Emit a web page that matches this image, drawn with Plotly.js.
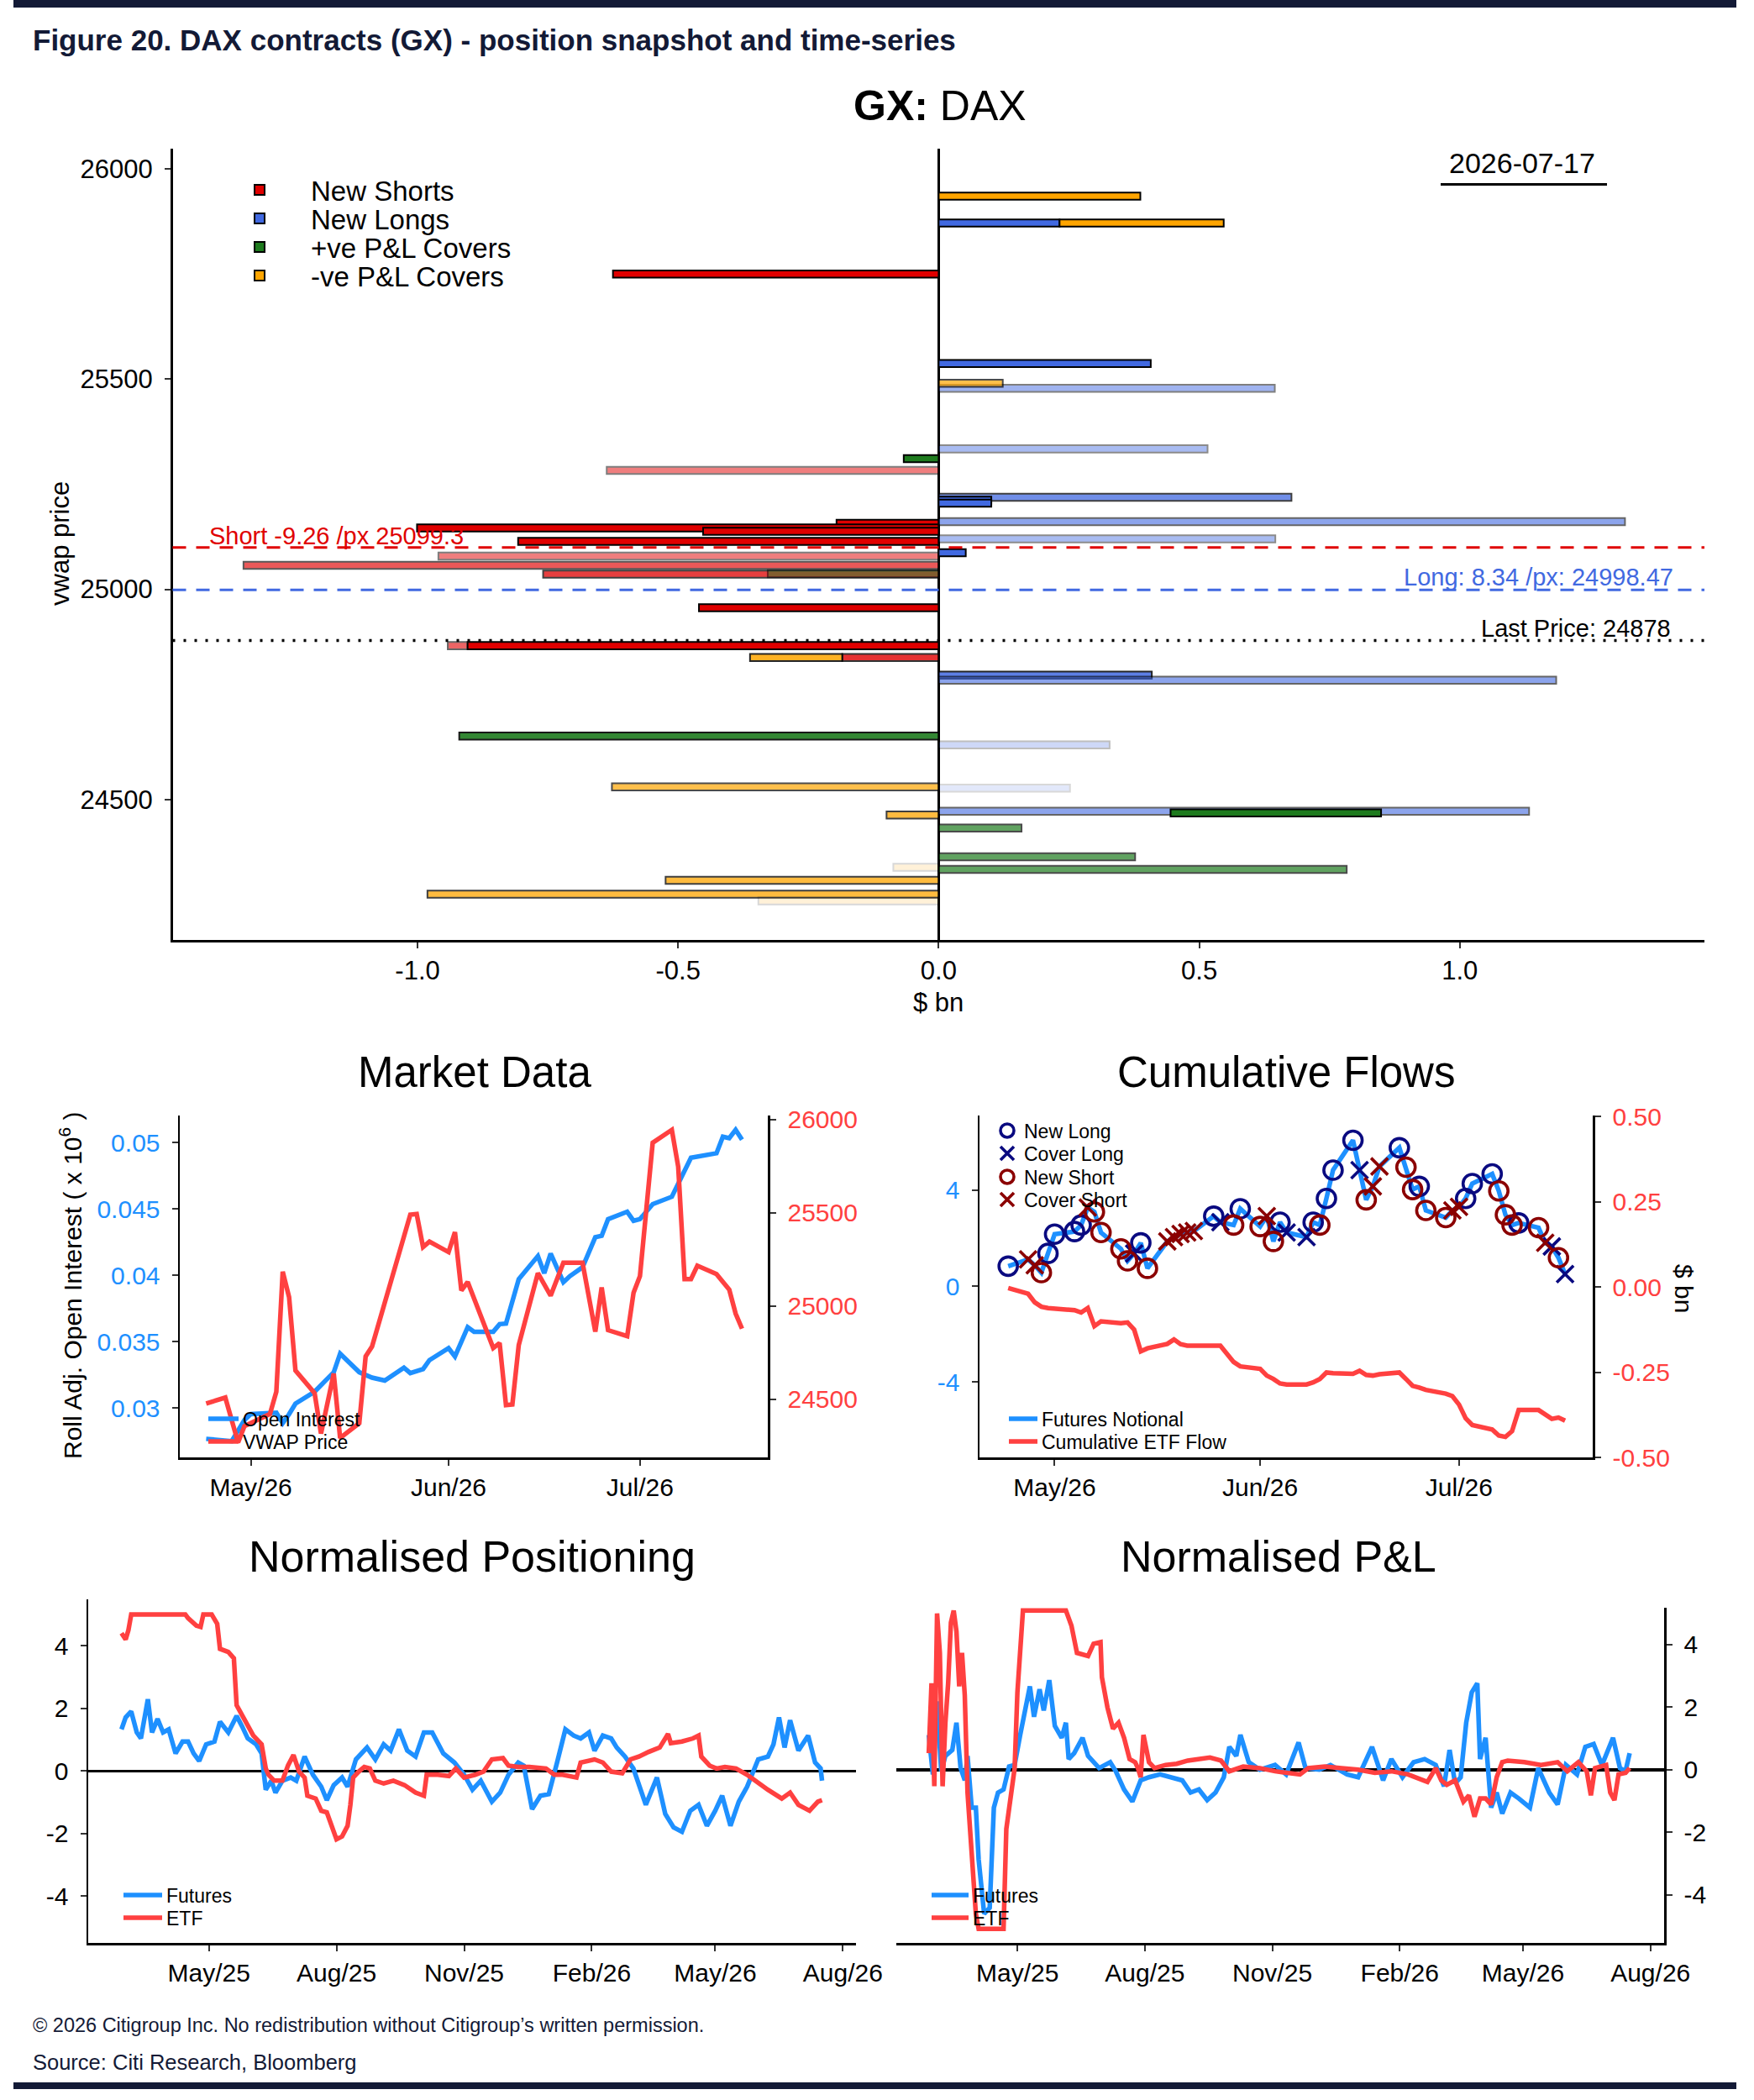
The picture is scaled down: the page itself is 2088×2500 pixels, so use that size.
<!DOCTYPE html>
<html>
<head>
<meta charset="utf-8">
<title>DAX contracts (GX) - position snapshot and time-series</title>
<script src="https://cdn.plot.ly/plotly-3.0.1.min.js"></script>
<style>
  html, body { margin: 0; padding: 0; background: #ffffff; }
  #fig { width: 2088px; height: 2500px; }
</style>
</head>
<body>
<div id="fig"></div>
<script>
// ---------------- Position snapshot: GX (DAX) ----------------
const asOfDate = '2026-07-17';
const lastPrice = 24878;
const shortTotal = -9.26;
const shortVwap = 25099.3;
const longTotal = 8.34;
const longVwap = 24998.47;

// New Shorts: vwap price, bar start, bar length ($ bn), opacity
const nsPrice = [25750, 25283, 25157, 25146, 25138, 25114, 25079, 25057, 25036, 24956, 24866, 24866, 24838];
const nsBase  = [0, 0, 0, 0, 0, 0, 0, 0, 0, 0, -0.904, 0, 0];
const nsSize  = [-0.625, -0.637, -0.196, -1.001, -0.452, -0.807, -0.960, -1.334, -0.759, -0.460, -0.038, -0.904, -0.185];
const nsAlpha = [1, 0.5, 1, 1, 1, 1, 0.5, 0.65, 0.75, 1, 0.6, 1, 0.8];

// New Longs
const nlPrice = [25871, 25537, 25478, 25334, 25219, 25212, 25205, 25161, 25120, 25087, 24796, 24784, 24630, 24527, 24472];
const nlBase  = [0, 0, 0, 0, 0, 0, 0, 0, 0, 0, 0, 0, 0, 0, 0];
const nlSize  = [0.232, 0.407, 0.645, 0.516, 0.677, 0.101, 0.101, 1.317, 0.646, 0.052, 0.409, 1.185, 0.328, 0.252, 1.133];
const nlAlpha = [1, 1, 0.5, 0.45, 0.75, 1, 1, 0.6, 0.45, 1, 0.85, 0.6, 0.25, 0.15, 0.6];

// +ve P&L Covers
const pcPrice = [25311, 25037, 24651, 24468, 24432, 24364, 24334];
const pcBase  = [0, 0, 0, 0.445, 0, 0, 0];
const pcSize  = [-0.067, -0.328, -0.920, 0.404, 0.159, 0.377, 0.783];
const pcAlpha = [1, 0.5, 0.9, 1, 0.7, 0.7, 0.7];

// -ve P&L Covers
const ncPrice = [25935, 25871, 25490, 24838, 24530, 24463, 24339, 24308, 24275, 24259];
const ncBase  = [0, 0.232, 0, -0.185, 0, 0, 0, 0, 0, 0];
const ncSize  = [0.387, 0.315, 0.123, -0.177, -0.627, -0.100, -0.087, -0.524, -0.981, -0.346];
const ncAlpha = [1, 1, 0.7, 0.85, 0.7, 0.75, 0.15, 0.75, 0.75, 0.15];

const snapXTicks = [-1, -0.5, 0, 0.5, 1];
const snapXText  = ['-1.0', '-0.5', '0.0', '0.5', '1.0'];
const snapYTicks = [24500, 25000, 25500, 26000];
const snapYText  = ['24500', '25000', '25500', '26000'];

// ---------------- Market Data ----------------
const oiDates = ['2026-04-24','2026-04-28','2026-04-30','2026-05-01','2026-05-05','2026-05-06','2026-05-07','2026-05-08','2026-05-11','2026-05-14',
  '2026-05-15','2026-05-18','2026-05-20','2026-05-22','2026-05-25','2026-05-26','2026-05-28','2026-05-29','2026-06-01','2026-06-02',
  '2026-06-04','2026-06-05','2026-06-08','2026-06-09','2026-06-10','2026-06-12','2026-06-15','2026-06-16','2026-06-17','2026-06-19',
  '2026-06-20','2026-06-22','2026-06-24','2026-06-25','2026-06-26','2026-06-29','2026-06-30','2026-07-01','2026-07-03','2026-07-06',
  '2026-07-09','2026-07-13','2026-07-14','2026-07-15','2026-07-16','2026-07-17'];
const openInterest = [0.02769,0.02751,0.02910,0.02955,0.02966,0.02887,0.02955,0.03034,0.03124,0.03271,
  0.03411,0.03271,0.03230,0.03208,0.03305,0.03264,0.03294,0.03362,0.03452,0.03389,
  0.03610,0.03576,0.03576,0.03633,0.03637,0.03972,0.04146,0.04017,0.04164,0.03949,
  0.03994,0.04062,0.04288,0.04299,0.04424,0.04480,0.04412,0.04424,0.04537,0.04593,
  0.04887,0.04921,0.05045,0.05034,0.05097,0.05023];

const vwapDates = ['2026-04-24','2026-04-27','2026-04-29','2026-04-30','2026-05-04','2026-05-05','2026-05-06','2026-05-07','2026-05-08','2026-05-11',
  '2026-05-12','2026-05-14','2026-05-15','2026-05-18','2026-05-19','2026-05-20','2026-05-26','2026-05-27','2026-05-28','2026-05-29',
  '2026-06-01','2026-06-02','2026-06-03','2026-06-04','2026-06-08','2026-06-09','2026-06-10','2026-06-11','2026-06-12','2026-06-15',
  '2026-06-17','2026-06-19','2026-06-22','2026-06-24','2026-06-25','2026-06-26','2026-06-29','2026-06-30','2026-07-01','2026-07-03',
  '2026-07-06','2026-07-07','2026-07-08','2026-07-09','2026-07-10','2026-07-13','2026-07-15','2026-07-16','2026-07-17'];
const vwapPrice = [24476,24508,24267,24355,24420,24540,25184,25047,24653,24532,
  24315,24637,24291,24371,24729,24782,25490,25493,25316,25345,
  25289,25396,25083,25128,24774,24801,24468,24471,24790,25176,
  25055,25232,25232,24862,25099,24870,24838,25071,25160,25876,
  25945,25747,25144,25144,25216,25171,25087,24959,24878];

const mdTickVals = ['2026-05-01', '2026-06-01', '2026-07-01'];
const mdTickText = ['May/26', 'Jun/26', 'Jul/26'];
const oiTicks = [0.03, 0.035, 0.04, 0.045, 0.05];
const oiTickText = ['0.03', '0.035', '0.04', '0.045', '0.05'];

// ---------------- Cumulative Flows ----------------
const flowDates = ['2026-04-24','2026-04-27','2026-04-28','2026-04-29','2026-04-30',
  '2026-05-01','2026-05-04','2026-05-05','2026-05-06','2026-05-07','2026-05-08','2026-05-11','2026-05-12','2026-05-13','2026-05-14',
  '2026-05-15','2026-05-18','2026-05-19','2026-05-20','2026-05-21','2026-05-22','2026-05-25','2026-05-26','2026-05-28','2026-05-29',
  '2026-06-01','2026-06-02','2026-06-03','2026-06-04','2026-06-05','2026-06-08','2026-06-09','2026-06-10','2026-06-11','2026-06-12',
  '2026-06-15','2026-06-16','2026-06-17','2026-06-18','2026-06-19','2026-06-22','2026-06-23','2026-06-24','2026-06-25','2026-06-26',
  '2026-06-29','2026-06-30','2026-07-01','2026-07-02','2026-07-03','2026-07-06','2026-07-07','2026-07-08','2026-07-09','2026-07-10',
  '2026-07-13','2026-07-14','2026-07-15','2026-07-16','2026-07-17'];
const futuresNotional = [0.83,1.11,0.87,0.56,1.36,
  2.16,2.27,2.54,3.27,3.09,2.23,1.55,1.05,1.36,1.80,
  0.74,1.86,2.04,2.17,2.23,2.29,2.91,2.66,2.54,3.22,
  2.48,2.91,1.86,2.66,2.23,2.04,2.66,2.54,3.65,4.83,
  6.07,4.83,3.59,4.15,4.98,5.76,4.95,4.02,4.15,3.15,
  2.85,3.15,3.30,3.65,4.27,4.67,3.96,2.97,2.54,2.63,
  2.43,1.80,1.65,1.18,0.50];
const flowType = ['NL','CS','CS','NS','NL',
  'NL','NL','NL','CS','NS','NS','NS','NS','CL','NL',
  'NS','CS','CS','CS','CS','CS','NL','CL','NS','NL',
  'NS','CS','NS','NL','CL','CL','NL','NS','NL','NL',
  'NL','CL','NS','CS','CS','NL','NS','NS','NL','NS',
  'NS','CS','CS','NL','NL','NL','NS','NS','NS','NL',
  'NS','CS','CL','NS','CL'];
const etfFlow = [-0.003,-0.020,-0.045,-0.058,-0.062,
  -0.064,-0.068,-0.075,-0.062,-0.115,-0.101,-0.106,-0.104,-0.125,-0.189,
  -0.180,-0.167,-0.154,-0.168,-0.172,-0.172,-0.172,-0.172,-0.220,-0.233,
  -0.240,-0.260,-0.270,-0.283,-0.286,-0.286,-0.280,-0.270,-0.251,-0.253,
  -0.255,-0.246,-0.258,-0.260,-0.256,-0.251,-0.270,-0.290,-0.295,-0.302,
  -0.313,-0.320,-0.345,-0.385,-0.405,-0.418,-0.436,-0.440,-0.423,-0.361,
  -0.361,-0.374,-0.387,-0.383,-0.392];
const flowLeftTicks = [-4, 0, 4];
const flowLeftText = ['-4', '0', '4'];
const flowRightTicks = [-0.5, -0.25, 0, 0.25, 0.5];
const flowRightText = ['-0.50', '-0.25', '0.00', '0.25', '0.50'];

// ---------------- Normalised Positioning ----------------
const posEtfDates = ['2025-02-27','2025-03-02','2025-03-04','2025-03-06','2025-04-14','2025-04-16','2025-04-22','2025-04-25','2025-04-27','2025-05-03',
  '2025-05-07','2025-05-09','2025-05-15','2025-05-19','2025-05-21','2025-05-25','2025-05-29','2025-06-02','2025-06-08','2025-06-11',
  '2025-06-13','2025-06-17','2025-06-23','2025-06-27','2025-07-01','2025-07-05','2025-07-09','2025-07-11','2025-07-17','2025-07-21',
  '2025-07-25','2025-07-29','2025-08-01','2025-08-05','2025-08-09','2025-08-11','2025-08-13','2025-08-17','2025-08-21','2025-08-25',
  '2025-08-29','2025-09-04','2025-09-11','2025-09-19','2025-09-27','2025-10-03','2025-10-05','2025-10-13','2025-10-21','2025-10-26',
  '2025-11-01','2025-11-09','2025-11-15','2025-11-21','2025-11-29','2025-12-03','2025-12-10','2025-12-18','2025-12-30','2026-01-05',
  '2026-01-11','2026-01-21','2026-01-24','2026-02-03','2026-02-09','2026-02-15','2026-02-23','2026-03-01','2026-03-07','2026-03-14',
  '2026-03-22','2026-03-28','2026-03-30','2026-04-07','2026-04-15','2026-04-19','2026-04-21','2026-04-27','2026-05-02','2026-05-08',
  '2026-05-16','2026-05-24','2026-06-01','2026-06-08','2026-06-18','2026-06-24','2026-06-30','2026-07-08','2026-07-14','2026-07-17'];
const posEtf = [4.40,4.20,4.50,5.00,5.00,4.88,4.64,4.60,5.00,5.00,
  4.70,3.90,3.80,3.60,2.10,1.76,1.42,1.13,0.85,0.08,
  -0.12,-0.31,-0.31,0.17,0.51,-0.02,-0.21,-0.79,-0.88,-1.27,
  -1.32,-1.85,-2.18,-2.09,-1.75,-1.08,-0.21,-0.02,0.13,0.08,
  -0.31,-0.40,-0.31,-0.45,-0.69,-0.79,-0.12,-0.12,-0.16,0.08,
  -0.21,-0.12,-0.02,0.37,0.41,0.17,0.13,0.13,0.08,-0.12,
  -0.12,-0.21,0.27,0.37,0.27,-0.02,-0.07,0.37,0.46,0.61,
  0.75,1.18,0.89,0.94,1.04,1.13,0.46,0.17,0.08,0.13,
  0.08,-0.12,-0.40,-0.60,-0.88,-0.69,-1.08,-1.27,-0.98,-0.93];

const posFutDates = ['2025-02-27','2025-03-02','2025-03-06','2025-03-10','2025-03-13','2025-03-18','2025-03-21','2025-03-25','2025-03-29','2025-04-02',
  '2025-04-07','2025-04-12','2025-04-16','2025-04-20','2025-04-24','2025-04-29','2025-05-05','2025-05-09','2025-05-15','2025-05-21',
  '2025-05-25','2025-05-29','2025-06-04','2025-06-08','2025-06-11','2025-06-15','2025-06-18','2025-06-23','2025-06-29','2025-07-03',
  '2025-07-09','2025-07-15','2025-07-21','2025-07-25','2025-07-30','2025-08-05','2025-08-09','2025-08-15','2025-08-23','2025-08-29',
  '2025-09-04','2025-09-09','2025-09-15','2025-09-21','2025-09-27','2025-10-03','2025-10-09','2025-10-17','2025-10-25','2025-11-01',
  '2025-11-07','2025-11-13','2025-11-21','2025-11-27','2025-12-03','2025-12-10','2025-12-14','2025-12-20','2025-12-26','2026-01-01',
  '2026-01-07','2026-01-13','2026-01-19','2026-01-24','2026-01-30','2026-02-03','2026-02-09','2026-02-15','2026-02-19','2026-02-25',
  '2026-03-03','2026-03-08','2026-03-12','2026-03-20','2026-03-26','2026-04-01','2026-04-07','2026-04-13','2026-04-19','2026-04-25',
  '2026-05-01','2026-05-06','2026-05-12','2026-05-18','2026-05-24','2026-06-01','2026-06-08','2026-06-12','2026-06-16','2026-06-20',
  '2026-06-24','2026-06-30','2026-07-07','2026-07-12','2026-07-16','2026-07-17'];
const posFut = [1.33,1.71,1.90,1.23,1.04,2.29,1.23,1.66,1.23,1.33,
  0.56,0.94,0.94,0.56,0.32,0.85,0.94,1.57,1.23,1.76,
  1.42,1.04,0.85,0.56,-0.60,-0.31,-0.69,-0.31,-0.21,-0.31,
  0.46,-0.12,-0.50,-0.93,-0.45,-0.21,-0.50,0.37,0.75,0.37,
  0.85,0.65,1.33,0.65,0.46,1.23,1.23,0.56,0.27,-0.12,
  -0.60,-0.31,-0.98,-0.69,-0.12,0.27,0.17,-1.22,-0.79,-0.74,
  0.27,1.33,1.13,1.04,1.23,0.65,1.13,1.04,0.75,0.46,
  0.08,-0.60,-1.08,-0.21,-1.37,-1.80,-1.94,-1.27,-1.08,-1.75,
  -1.27,-0.79,-1.75,-0.98,-0.50,0.37,0.46,0.85,1.71,0.75,
  1.62,0.65,1.13,0.27,0.08,-0.31];

// ---------------- Normalised P&L ----------------
const plEtfDates = ['2025-02-26','2025-02-28','2025-03-02','2025-03-04','2025-03-06','2025-03-08','2025-03-10','2025-03-12','2025-03-14','2025-03-16',
  '2025-03-18','2025-03-20','2025-03-22','2025-03-24','2025-03-26','2025-03-29','2025-04-01','2025-04-03','2025-04-21','2025-04-23',
  '2025-04-27','2025-04-29','2025-05-01','2025-05-05','2025-06-05','2025-06-09','2025-06-13','2025-06-21','2025-06-25','2025-06-30',
  '2025-07-01','2025-07-05','2025-07-09','2025-07-13','2025-07-17','2025-07-21','2025-07-25','2025-07-27','2025-07-29','2025-07-31',
  '2025-08-04','2025-08-08','2025-08-16','2025-08-24','2025-09-01','2025-09-09','2025-09-17','2025-09-25','2025-10-01','2025-10-11',
  '2025-10-23','2025-11-03','2025-11-11','2025-11-21','2025-11-27','2025-12-09','2025-12-21','2026-01-02','2026-01-14','2026-01-26',
  '2026-02-07','2026-02-15','2026-02-21','2026-02-27','2026-03-03','2026-03-07','2026-03-13','2026-03-19','2026-03-23','2026-03-27',
  '2026-03-31','2026-04-04','2026-04-08','2026-04-12','2026-04-16','2026-04-20','2026-05-02','2026-05-14','2026-05-26','2026-06-02',
  '2026-06-10','2026-06-16','2026-06-19','2026-06-22','2026-06-30','2026-07-03','2026-07-06','2026-07-09','2026-07-14','2026-07-17'];
const plEtf = [0.53,2.76,-0.53,4.99,3.73,-0.53,1.50,2.76,4.70,5.08,
  4.41,2.66,3.73,2.37,-0.73,-2.86,-4.60,-5.08,-5.08,-1.89,
  -0.44,0.05,2.47,5.08,5.08,4.60,3.73,3.63,4.02,4.07,
  2.95,1.99,1.31,1.50,1.02,0.34,0.24,0.05,-0.24,1.11,
  0.24,0.05,0.15,0.19,0.29,0.34,0.39,0.29,-0.05,0.10,
  0.05,-0.05,-0.10,-0.15,0.05,0.10,0.05,0.00,-0.10,-0.05,
  -0.15,-0.29,-0.39,0.05,-0.34,-0.48,-0.34,-1.02,-0.82,-1.50,
  -0.92,-0.92,-1.11,-0.24,0.24,0.29,0.24,0.15,0.24,-0.05,
  0.24,-0.05,-0.82,0.05,0.15,-0.73,-0.97,-0.15,-0.10,0.05];

const plFutDates = ['2025-02-26','2025-03-01','2025-03-04','2025-03-07','2025-03-10','2025-03-15','2025-03-18','2025-03-21','2025-03-24','2025-03-26',
  '2025-03-29','2025-04-01','2025-04-03','2025-04-07','2025-04-11','2025-04-14','2025-04-17','2025-04-21','2025-04-25','2025-04-29',
  '2025-05-03','2025-05-07','2025-05-10','2025-05-13','2025-05-17','2025-05-20','2025-05-24','2025-05-28','2025-06-02','2025-06-05',
  '2025-06-07','2025-06-11','2025-06-17','2025-06-21','2025-06-29','2025-07-07','2025-07-11','2025-07-17','2025-07-23','2025-07-29',
  '2025-08-04','2025-08-12','2025-08-20','2025-08-28','2025-09-03','2025-09-09','2025-09-15','2025-09-21','2025-09-27','2025-10-01',
  '2025-10-06','2025-10-09','2025-10-15','2025-10-23','2025-11-03','2025-11-11','2025-11-20','2025-11-25','2025-12-05','2025-12-13',
  '2025-12-25','2026-01-02','2026-01-12','2026-01-20','2026-01-26','2026-02-03','2026-02-11','2026-02-19','2026-02-27','2026-03-05',
  '2026-03-09','2026-03-13','2026-03-17','2026-03-21','2026-03-25','2026-03-29','2026-03-31','2026-04-04','2026-04-08','2026-04-12',
  '2026-04-16','2026-04-22','2026-04-28','2026-05-06','2026-05-12','2026-05-20','2026-05-26','2026-06-01','2026-06-09','2026-06-15',
  '2026-06-21','2026-06-27','2026-07-05','2026-07-10','2026-07-14','2026-07-17'];
const plFut = [1.11,-0.15,2.18,-0.05,0.44,0.63,1.50,0.05,-0.34,0.44,
  -1.21,-1.21,-2.86,-4.60,-4.41,-1.21,-0.73,-0.63,0.10,0.15,
  1.11,1.99,2.66,1.69,2.57,1.89,2.86,1.40,1.02,1.50,
  0.34,0.53,1.02,0.44,0.05,0.24,-0.05,-0.63,-1.02,-0.34,
  -0.24,-0.15,-0.24,-0.34,-0.73,-0.63,-0.97,-0.73,-0.24,0.73,
  0.44,1.11,0.24,0.00,0.15,-0.15,0.87,0.05,0.00,0.15,
  -0.15,-0.24,0.73,-0.34,0.34,-0.24,0.24,0.34,0.15,-0.53,
  0.63,-0.44,-0.24,1.50,2.47,2.76,0.34,1.02,-1.21,-0.73,
  -1.40,-0.73,-0.92,-1.21,0.05,-0.73,-1.11,0.15,-0.15,0.73,
  0.82,0.15,1.02,0.05,-0.05,0.53];

const normTicks = [-4, -2, 0, 2, 4];
const normTickText = ['-4', '-2', '0', '2', '4'];
const longTickVals = ['2025-05-01','2025-08-01','2025-11-01','2026-02-01','2026-05-01','2026-08-01'];
const longTickText = ['May/25','Aug/25','Nov/25','Feb/26','May/26','Aug/26'];

// ---------------- styling ----------------
const W = 2088, H = 2500;
const FONT = "'Liberation Sans', Arial, Helvetica, sans-serif";
const INK = '#131a36';
const BLUE = '#1E90FF';
const RED = '#FF4040';
const C_SHORT = '#E00000', C_LONG = '#4169E1', C_PCOV = '#1E7B1E', C_NCOV = '#FFA500';
const NAVY = '#0A0A80', DARKRED = '#8B0000';
const LINE_W = 5.5;

const px = v => v / W;
const py = v => 1 - v / H;

function barTrace(name, price, base, size, alpha, color, legend) {
  return {
    type: 'bar', orientation: 'h', name: name, legend: legend,
    y: price, x: size, base: base, width: 17,
    xaxis: 'x', yaxis: 'y',
    marker: { color: color, opacity: alpha, line: { color: '#000', width: 2 } },
    hoverinfo: 'skip'
  };
}

function lineTrace(name, x, y, color, xa, ya, legend) {
  return {
    type: 'scatter', mode: 'lines', name: name, legend: legend,
    x: x, y: y, xaxis: xa, yaxis: ya,
    line: { color: color, width: LINE_W }, hoverinfo: 'skip'
  };
}

function pickFlows(code) {
  const x = [], y = [];
  flowType.forEach((t, i) => { if (t === code) { x.push(flowDates[i]); y.push(futuresNotional[i]); } });
  return { x, y };
}

function markerTrace(name, code, symbol, color, legend, size) {
  const p = pickFlows(code);
  return {
    type: 'scatter', mode: 'markers', name: name, legend: legend,
    x: p.x, y: p.y, xaxis: 'x3', yaxis: 'y4',
    marker: { symbol: symbol, size: size, color: color, line: { color: color, width: 3.6 } },
    hoverinfo: 'skip'
  };
}

const traces = [
  barTrace('New Shorts', nsPrice, nsBase, nsSize, nsAlpha, C_SHORT, 'legend'),
  barTrace('New Longs', nlPrice, nlBase, nlSize, nlAlpha, C_LONG, 'legend2'),
  barTrace('+ve P&L Covers', pcPrice, pcBase, pcSize, pcAlpha, C_PCOV, 'legend3'),
  barTrace('-ve P&L Covers', ncPrice, ncBase, ncSize, ncAlpha, C_NCOV, 'legend4'),

  lineTrace('Open Interest', oiDates, openInterest, BLUE, 'x2', 'y2', 'legend5'),
  lineTrace('VWAP Price', vwapDates, vwapPrice, RED, 'x2', 'y3', 'legend6'),

  lineTrace('Cumulative ETF Flow', flowDates, etfFlow, RED, 'x3', 'y5', 'legend12'),
  lineTrace('Futures Notional', flowDates, futuresNotional, BLUE, 'x3', 'y4', 'legend11'),
  markerTrace('New Long', 'NL', 'circle-open', NAVY, 'legend7', 22),
  markerTrace('Cover Long', 'CL', 'x-thin-open', NAVY, 'legend8', 20),
  markerTrace('New Short', 'NS', 'circle-open', DARKRED, 'legend9', 22),
  markerTrace('Cover Short', 'CS', 'x-thin-open', DARKRED, 'legend10', 20),

  lineTrace('Futures', posFutDates, posFut, BLUE, 'x4', 'y6', 'legend13'),
  lineTrace('ETF', posEtfDates, posEtf, RED, 'x4', 'y6', 'legend14'),

  lineTrace('Futures', plFutDates, plFut, BLUE, 'x5', 'y7', 'legend15'),
  lineTrace('ETF', plEtfDates, plEtf, RED, 'x5', 'y7', 'legend16')
];

const axisBase = {
  showgrid: false, zeroline: false, showline: true, linecolor: '#000', linewidth: 2.5,
  ticks: 'outside', ticklen: 7, tickwidth: 2, tickcolor: '#333',
  tickfont: { family: FONT, size: 30, color: '#000' }, ticklabelstandoff: 8,
  fixedrange: true, automargin: false
};
function ax(extra) { return Object.assign({}, axisBase, extra); }
// x axes sit their labels closer to the axis line
function xax(extra) { return Object.assign({}, axisBase, { ticklabelstandoff: 0 }, extra); }

function legendAt(xLeft, yMid, size, itemW) {
  return {
    x: px(xLeft), y: py(yMid), xref: 'paper', yref: 'paper',
    xanchor: 'left', yanchor: 'middle', bgcolor: 'rgba(0,0,0,0)', borderwidth: 0,
    font: { family: FONT, size: size, color: '#000' }, itemwidth: itemW, tracegroupgap: 0
  };
}

function label(text, xPx, yPx, size, extra) {
  return Object.assign({
    text: text, x: px(xPx), y: py(yPx), xref: 'paper', yref: 'paper',
    xanchor: 'center', yanchor: 'middle', showarrow: false,
    font: { family: FONT, size: size, color: '#000' }
  }, extra || {});
}

const layout = {
  width: W, height: H,
  margin: { l: 0, r: 0, t: 0, b: 0, pad: 0 },
  paper_bgcolor: '#fff', plot_bgcolor: 'rgba(0,0,0,0)',
  barmode: 'overlay', showlegend: true, hovermode: false,
  font: { family: FONT, color: '#000' },

  // snapshot
  xaxis: xax({ domain: [px(205.5), px(2029)], anchor: 'y', range: [-1.470, 1.4695],
    tickvals: snapXTicks, ticktext: snapXText, tickfont: { family: FONT, size: 31, color: '#000' },
    zeroline: true, zerolinecolor: '#000', zerolinewidth: 2.5 }),
  yaxis: ax({ domain: [py(1119), py(177)], anchor: 'x', range: [24166, 26048],
    tickvals: snapYTicks, ticktext: snapYText, tickfont: { family: FONT, size: 31, color: '#000' } }),

  // market data
  xaxis2: xax({ type: 'date', domain: [px(214), px(914)], anchor: 'y2',
    range: ['2026-04-19 20:40', '2026-07-21 01:00'], tickvals: mdTickVals, ticktext: mdTickText }),
  yaxis2: ax({ domain: [py(1735), py(1328)], anchor: 'x2', range: [0.02629, 0.05205],
    tickvals: oiTicks, ticktext: oiTickText, tickfont: { family: FONT, size: 30, color: BLUE } }),
  yaxis3: ax({ overlaying: 'y2', side: 'right', anchor: 'x2', range: [24187, 26022],
    tickvals: snapYTicks, ticktext: snapYText, tickfont: { family: FONT, size: 30, color: RED } }),

  // cumulative flows
  xaxis3: xax({ type: 'date', domain: [px(1166), px(1896)], anchor: 'y4',
    range: ['2026-04-19 16:00', '2026-07-21 04:00'], tickvals: mdTickVals, ticktext: mdTickText }),
  yaxis4: ax({ domain: [py(1735), py(1328)], anchor: 'x3', range: [-7.13, 7.10],
    tickvals: flowLeftTicks, ticktext: flowLeftText, tickfont: { family: FONT, size: 30, color: BLUE } }),
  yaxis5: ax({ overlaying: 'y4', side: 'right', anchor: 'x3', range: [-0.5, 0.503],
    tickvals: flowRightTicks, ticktext: flowRightText, tickfont: { family: FONT, size: 30, color: RED } }),

  // normalised positioning
  xaxis4: xax({ type: 'date', domain: [px(105), px(1019)], anchor: 'y6',
    range: ['2025-02-03', '2026-08-10 12:00'], tickvals: longTickVals, ticktext: longTickText }),
  yaxis6: ax({ domain: [py(2313), py(1904)], anchor: 'x4', range: [-5.49, 5.48],
    tickvals: normTicks, ticktext: normTickText,
    zeroline: true, zerolinecolor: '#000', zerolinewidth: 3.5 }),

  // normalised P&L
  xaxis5: xax({ type: 'date', domain: [px(1067), px(1981)], anchor: 'y7',
    range: ['2025-02-02 14:00', '2026-08-10 21:00'], tickvals: longTickVals, ticktext: longTickText }),
  yaxis7: ax({ domain: [py(2313), py(1914)], anchor: 'x5', side: 'right', range: [-5.53, 5.17],
    tickvals: normTicks, ticktext: normTickText,
    zeroline: true, zerolinecolor: '#000', zerolinewidth: 3.5 }),

  legend:   legendAt(248, 226, 33, 112),
  legend2:  legendAt(248, 260, 33, 112),
  legend3:  legendAt(248, 294, 33, 112),
  legend4:  legendAt(248, 328, 33, 112),
  legend5:  legendAt(243, 1689, 23, 36),
  legend6:  legendAt(243, 1716, 23, 36),
  legend7:  legendAt(1179, 1346, 23, 30),
  legend8:  legendAt(1179, 1373, 23, 30),
  legend9:  legendAt(1179, 1401, 23, 30),
  legend10: legendAt(1179, 1428, 23, 30),
  legend11: legendAt(1196, 1689, 23, 34),
  legend12: legendAt(1196, 1716, 23, 34),
  legend13: legendAt(142, 2256, 23, 46),
  legend14: legendAt(142, 2283, 23, 46),
  legend15: legendAt(1104, 2256, 23, 44),
  legend16: legendAt(1104, 2283, 23, 44),

  shapes: [
    // page rules
    { type: 'rect', xref: 'paper', yref: 'paper', x0: px(16), x1: px(2067), y0: py(0), y1: py(9),
      fillcolor: INK, line: { width: 0 } },
    { type: 'rect', xref: 'paper', yref: 'paper', x0: px(16), x1: px(2067), y0: py(2479), y1: py(2487),
      fillcolor: INK, line: { width: 0 } },
    // underline of the snapshot date
    { type: 'line', xref: 'paper', yref: 'paper', x0: px(1715), x1: px(1913), y0: py(219.5), y1: py(219.5),
      line: { color: '#000', width: 3 } },
    // reference levels
    { type: 'line', xref: 'x domain', yref: 'y', x0: 0, x1: 1, y0: shortVwap, y1: shortVwap, layer: 'above',
      line: { color: C_SHORT, width: 3, dash: '16px,12px' } },
    { type: 'line', xref: 'x domain', yref: 'y', x0: 0, x1: 1, y0: longVwap, y1: longVwap, layer: 'above',
      line: { color: C_LONG, width: 3, dash: '16px,12px' } },
    { type: 'line', xref: 'x domain', yref: 'y', x0: 0, x1: 1, y0: lastPrice, y1: lastPrice, layer: 'above',
      line: { color: '#000', width: 3.5, dash: '3px,10px' } }
  ],

  annotations: [
    label('<b>Figure 20. DAX contracts (GX) - position snapshot and time-series</b>', 37, 48, 35,
      { xanchor: 'left', font: { family: FONT, size: 35, color: INK } }),
    label('<b>GX:</b> DAX', 1119, 126, 50),
    label(asOfDate, 1812, 194, 34),
    label('vwap price', 72, 647, 31, { textangle: -90 }),
    label('$ bn', 1117, 1193, 31),
    { text: `Short ${shortTotal} /px ${shortVwap}`, xref: 'x', yref: 'y', x: -1.403, y: shortVwap,
      xanchor: 'left', yanchor: 'bottom', yshift: -4, showarrow: false,
      font: { family: FONT, size: 29, color: C_SHORT } },
    { text: `Long: ${longTotal} /px: ${longVwap}`, xref: 'x', yref: 'y', x: 1.413, y: longVwap,
      xanchor: 'right', yanchor: 'bottom', yshift: -3, showarrow: false,
      font: { family: FONT, size: 29, color: C_LONG } },
    { text: `Last Price: ${lastPrice}`, xref: 'x', yref: 'y', x: 1.408, y: lastPrice,
      xanchor: 'right', yanchor: 'bottom', yshift: -3, showarrow: false,
      font: { family: FONT, size: 29, color: '#000' } },

    label('Market Data', 565, 1276, 51),
    label('Cumulative Flows', 1531, 1276, 51),
    label('Roll Adj. Open Interest ( x 10<sup>6</sup> )', 84, 1530, 30, { textangle: -90 }),
    label('$ bn', 2005, 1534, 30, { textangle: 90 }),
    label('Normalised Positioning', 562, 1853, 52),
    label('Normalised P&L', 1522, 1853, 52),

    label('© 2026 Citigroup Inc. No redistribution without Citigroup’s written permission.', 37, 2411, 23.5,
      { xanchor: 'left', font: { family: FONT, size: 23.5, color: INK } }),
    label('Source: Citi Research, Bloomberg', 37, 2455, 25.5,
      { xanchor: 'left', font: { family: FONT, size: 25.5, color: INK } })
  ]
};

Plotly.newPlot('fig', traces, layout, { staticPlot: true, displayModeBar: false });
</script>
</body>
</html>
